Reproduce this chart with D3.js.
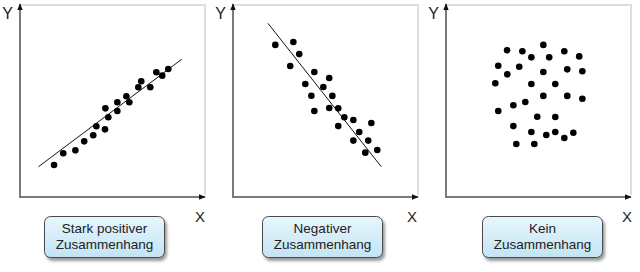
<!DOCTYPE html>
<html>
<head>
<meta charset="utf-8">
<script src="https://cdn.jsdelivr.net/npm/d3@7"></script>
<style>
  html, body { margin: 0; padding: 0; background: #fff; }
  svg { display: block; font-family: "Liberation Sans", Arial, sans-serif; }
</style>
</head>
<body>
<svg id="chart" width="640" height="272"></svg>
<script>
// panel titles (two lines each)
var titles = [
  ["Stark positiver", "Zusammenhang"],
  ["Negativer", "Zusammenhang"],
  ["Kein", "Zusammenhang"]
];

// points of each panel, axis units 0..10
var positivePts = [
  [1.85,1.62],[2.35,2.24],[3.01,2.39],[3.49,2.86],[3.98,3.18],[4.15,3.65],[4.62,3.49],
  [4.64,4.59],[4.80,4.12],[5.29,4.91],[5.29,4.45],[5.78,5.22],[5.94,4.91],[6.43,5.69],
  [6.59,6.01],[7.08,5.69],[7.41,6.48],[7.73,6.30],[8.06,6.65]
];
var negativePts = [
  [2.30,7.91],[3.28,8.06],[3.60,7.43],[3.11,6.81],[4.42,6.49],[5.23,6.18],[3.93,5.86],
  [4.91,5.71],[4.26,5.25],[5.40,5.24],[4.42,4.45],[5.23,4.61],[5.72,4.59],[6.05,4.12],
  [5.72,3.66],[6.54,3.98],[6.86,3.35],[7.52,3.82],[6.54,2.90],[7.35,2.90],[7.19,2.27],
  [7.84,2.41]
];
var nonePts = [
  [5.29,7.91],[3.32,7.63],[4.15,7.58],[6.43,7.58],[4.64,7.26],[5.61,7.26],[7.24,7.31],
  [2.84,6.82],[3.98,6.77],[6.59,6.63],[7.41,6.53],[3.33,6.37],[5.29,6.49],[2.68,5.90],
  [4.64,5.86],[5.94,5.86],[5.29,5.24],[6.59,5.24],[7.41,5.09],[4.31,4.92],[3.66,4.75],
  [2.84,4.45],[4.96,4.15],[5.94,4.14],[3.66,3.66],[4.64,3.35],[5.94,3.35],[5.45,3.19],
  [6.43,3.04],[6.92,3.31],[3.82,2.72],[4.80,2.72]
];

// trend lines (start, end); null = no line
var positiveLine = [[1.00,1.53],[8.79,7.16]];
var negativeLine = [[1.90,9.04],[8.06,1.53]];

var panels = [
  {pts: positivePts, line: positiveLine, title: titles[0], boxX: 44, xLab: 200},
  {pts: negativePts, line: negativeLine, title: titles[1], boxX: 49, xLab: 199},
  {pts: nonePts, line: null, title: titles[2], boxX: 56, xLab: 201}
];

var svg = d3.select("#chart");
var defs = svg.append("defs");

var grad = defs.append("linearGradient").attr("id", "boxFill")
  .attr("x1", 0).attr("y1", 0).attr("x2", 0).attr("y2", 1);
grad.append("stop").attr("offset", "0%").attr("stop-color", "#e8f6fd");
grad.append("stop").attr("offset", "100%").attr("stop-color", "#c2e4f4");

var shadow = defs.append("filter").attr("id", "shadow")
  .attr("x", "-10%").attr("y", "-10%").attr("width", "130%").attr("height", "140%");
shadow.append("feDropShadow").attr("dx", 2).attr("dy", 3)
  .attr("stdDeviation", 1.8).attr("flood-color", "#000").attr("flood-opacity", 0.4);

defs.append("marker").attr("id", "arrow")
  .attr("viewBox", "0 0 10 10").attr("refX", 9).attr("refY", 5)
  .attr("markerWidth", 3.4).attr("markerHeight", 3.4).attr("orient", "auto")
  .attr("markerUnits", "strokeWidth")
  .append("path").attr("d", "M0,1 L10,5 L0,9 Z").attr("fill", "#111");

var x = d3.scaleLinear().domain([0, 10]).range([20, 204]);
var y = d3.scaleLinear().domain([0, 10]).range([196, 5]);

panels.forEach(function(p, i) {
  var g = svg.append("g").attr("transform", "translate(" + (i * 213) + ",0)");

  // light frame top + right
  g.append("path")
    .attr("d", "M" + x(0) + "," + y(10) + "H" + (x(10) + 1) + "V" + (y(0) - 1))
    .attr("fill", "none").attr("stroke", "#dedede").attr("stroke-width", 2);

  // axes
  g.append("line")
    .attr("x1", x(0)).attr("y1", y(0) + 1).attr("x2", x(0)).attr("y2", y(10) - 1)
    .attr("stroke", "#7a7a7a").attr("stroke-width", 2).attr("marker-end", "url(#arrow)");
  g.append("line")
    .attr("x1", x(0) - 1).attr("y1", y(0) + 1).attr("x2", x(10) + 1).attr("y2", y(0) + 1)
    .attr("stroke", "#7a7a7a").attr("stroke-width", 2).attr("marker-end", "url(#arrow)");

  g.append("text").attr("x", 7.5).attr("y", 18.5).attr("text-anchor", "middle")
    .attr("font-size", 16).attr("fill", "#222").text("Y");
  g.append("text").attr("x", p.xLab).attr("y", 222).attr("text-anchor", "middle")
    .attr("font-size", 15).attr("fill", "#222").text("X");

  if (p.line) {
    g.append("line")
      .attr("x1", x(p.line[0][0])).attr("y1", y(p.line[0][1]))
      .attr("x2", x(p.line[1][0])).attr("y2", y(p.line[1][1]))
      .attr("stroke", "#111").attr("stroke-width", 1);
  }

  g.selectAll("circle.dot").data(p.pts).enter().append("circle")
    .attr("class", "dot")
    .attr("cx", d => x(d[0])).attr("cy", d => y(d[1]))
    .attr("r", 3.3).attr("fill", "#000");

  // label box
  var bw = 120, bh = 41, by = 216;
  g.append("rect")
    .attr("x", p.boxX + 0.5).attr("y", by + 0.5).attr("width", bw).attr("height", bh)
    .attr("rx", 6).attr("ry", 6)
    .attr("fill", "url(#boxFill)").attr("stroke", "#4a4a4a").attr("stroke-width", 1)
    .attr("filter", "url(#shadow)");
  g.selectAll("text.title").data(p.title).enter().append("text")
    .attr("class", "title")
    .attr("x", p.boxX + bw / 2 + 0.5).attr("y", (d, j) => 233 + j * 16)
    .attr("text-anchor", "middle").attr("font-size", 13.5).attr("fill", "#222")
    .text(d => d);
});
</script>
</body>
</html>
